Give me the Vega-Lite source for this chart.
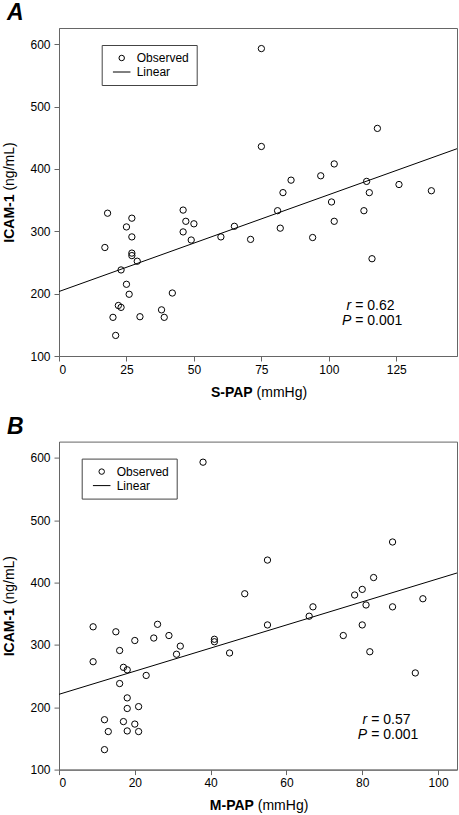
{
  "$schema": "https://vega.github.io/schema/vega-lite/v6.json",
  "padding": {"left": 1, "top": 1, "right": 0, "bottom": 0},
  "config": {
    "font": "Liberation Sans",
    "view": {"stroke": "#666", "strokeWidth": 1},
    "axis": {"grid": false, "domainColor": "#666", "tickColor": "#666", "tickSize": 5, "labelColor": "black", "labelFontSize": 12, "labelFont": "Liberation Sans", "titleColor": "black", "titleFontSize": 14, "titleFont": "Liberation Sans", "labelPadding": 3},
    "legend": {"strokeColor": "#444", "fillColor": "white", "padding": 7, "symbolOffset": 7, "labelOffset": 9, "labelFontSize": 12, "labelFont": "Liberation Sans", "symbolSize": 30, "symbolStrokeColor": "black", "symbolStrokeWidth": 1, "symbolFillColor": "transparent", "rowPadding": 2, "labelColor": "black"},
    "title": {"anchor": "start", "frame": "group", "dx": -52, "fontSize": 23, "fontWeight": "bold", "fontStyle": "italic", "offset": 3, "color": "black"}
  },
  "datasets": {
    "spap": [
      {"spap": 18, "icam": 329}, {"spap": 27, "icam": 321}, {"spap": 25, "icam": 307}, {"spap": 27, "icam": 291},
      {"spap": 17, "icam": 274}, {"spap": 27, "icam": 265}, {"spap": 27, "icam": 261}, {"spap": 29, "icam": 252},
      {"spap": 23, "icam": 238}, {"spap": 25, "icam": 215}, {"spap": 26, "icam": 199}, {"spap": 22, "icam": 181},
      {"spap": 23, "icam": 178}, {"spap": 20, "icam": 162}, {"spap": 30, "icam": 163}, {"spap": 21, "icam": 133},
      {"spap": 42, "icam": 201}, {"spap": 38, "icam": 174}, {"spap": 39, "icam": 162}, {"spap": 46, "icam": 334},
      {"spap": 47, "icam": 316}, {"spap": 50, "icam": 312}, {"spap": 46, "icam": 299}, {"spap": 49, "icam": 286},
      {"spap": 60, "icam": 291}, {"spap": 65, "icam": 308}, {"spap": 71, "icam": 287}, {"spap": 75, "icam": 436},
      {"spap": 118, "icam": 465}, {"spap": 102, "icam": 408}, {"spap": 97, "icam": 389}, {"spap": 86, "icam": 382},
      {"spap": 83, "icam": 362}, {"spap": 81, "icam": 333}, {"spap": 82, "icam": 305}, {"spap": 94, "icam": 290},
      {"spap": 101, "icam": 347}, {"spap": 102, "icam": 316}, {"spap": 114, "icam": 380}, {"spap": 115, "icam": 362},
      {"spap": 113, "icam": 333}, {"spap": 126, "icam": 375}, {"spap": 138, "icam": 365}, {"spap": 116, "icam": 256},
      {"spap": 75, "icam": 593}
    ],
    "mpap": [
      {"mpap": 9, "icam": 329}, {"mpap": 9, "icam": 273}, {"mpap": 15, "icam": 321}, {"mpap": 16, "icam": 291},
      {"mpap": 20, "icam": 307}, {"mpap": 17, "icam": 264}, {"mpap": 18, "icam": 260}, {"mpap": 16, "icam": 238},
      {"mpap": 23, "icam": 251}, {"mpap": 18, "icam": 215}, {"mpap": 18, "icam": 198}, {"mpap": 21, "icam": 201},
      {"mpap": 12, "icam": 180}, {"mpap": 17, "icam": 177}, {"mpap": 20, "icam": 173}, {"mpap": 13, "icam": 161},
      {"mpap": 18, "icam": 162}, {"mpap": 21, "icam": 161}, {"mpap": 12, "icam": 132}, {"mpap": 26, "icam": 333},
      {"mpap": 25, "icam": 311}, {"mpap": 29, "icam": 315}, {"mpap": 32, "icam": 298}, {"mpap": 31, "icam": 285},
      {"mpap": 49, "icam": 382}, {"mpap": 41, "icam": 309}, {"mpap": 41, "icam": 305}, {"mpap": 45, "icam": 287},
      {"mpap": 38, "icam": 593}, {"mpap": 55, "icam": 436}, {"mpap": 55, "icam": 332}, {"mpap": 67, "icam": 361},
      {"mpap": 66, "icam": 346}, {"mpap": 75, "icam": 315}, {"mpap": 78, "icam": 380}, {"mpap": 80, "icam": 389},
      {"mpap": 83, "icam": 408}, {"mpap": 88, "icam": 465}, {"mpap": 81, "icam": 364}, {"mpap": 80, "icam": 332},
      {"mpap": 88, "icam": 361}, {"mpap": 82, "icam": 289}, {"mpap": 96, "icam": 374}, {"mpap": 94, "icam": 255}
    ],
    "statsA": [{"stat": "r", "value": "= 0.62"}, {"stat": "P", "value": "= 0.001"}],
    "statsB": [{"stat": "r", "value": "= 0.57"}, {"stat": "P", "value": "= 0.001"}]
  },
  "spacing": 14.6,
  "resolve": {"scale": {"shape": "independent"}, "legend": {"shape": "independent"}},
  "vconcat": [
    {
      "title": {"text": "A"},
      "width": 398,
      "height": 328,
      "data": {"name": "spap"},
      "layer": [
        {
          "mark": {"type": "point", "filled": false, "stroke": "black", "strokeWidth": 1, "size": 40, "opacity": 1},
          "encoding": {
            "x": {"field": "spap", "type": "quantitative", "scale": {"domain": [0, 147.5], "nice": false, "zero": false},
              "axis": {"orient": "bottom", "values": [0, 25, 50, 75, 100, 125], "title": "S-PAP", "titleFontWeight": "bold", "titleAlign": "right", "titleX": 193.2, "titleY": 40, "titleBaseline": "alphabetic"}},
            "y": {"field": "icam", "type": "quantitative", "scale": {"domain": [100, 626], "nice": false, "zero": false},
              "axis": {"orient": "left", "values": [100, 200, 300, 400, 500, 600], "labelPadding": 4, "title": "ICAM-1", "titleFontWeight": "bold", "titleAngle": -90, "titleAlign": "right", "titleX": -46, "titleY": 166, "titleBaseline": "alphabetic"}},
            "shape": {"datum": "Observed", "type": "nominal", "scale": {"domain": ["Observed", "Linear"], "range": ["circle", "M-3.2,0L3.2,0"]},
              "legend": {"title": null, "orient": "none", "legendX": 42.7, "legendY": 17}}
          }
        },
        {
          "transform": [{"regression": "icam", "on": "spap", "extent": [0, 147.5]}],
          "mark": {"type": "line", "color": "black", "strokeWidth": 1},
          "encoding": {
            "x": {"field": "spap", "type": "quantitative",
              "axis": {"orient": "bottom", "title": "(mmHg)", "titleFontWeight": "normal", "titleAlign": "left", "titleX": 197.1, "titleY": 40, "titleBaseline": "alphabetic", "labels": false, "ticks": false, "domain": false}},
            "y": {"field": "icam", "type": "quantitative",
              "axis": {"orient": "left", "title": "(ng/mL)", "titleFontWeight": "normal", "titleAngle": -90, "titleAlign": "left", "titleX": -46, "titleY": 162.1, "titleBaseline": "alphabetic", "labels": false, "ticks": false, "domain": false}}
          }
        },
        {
          "data": {"name": "statsA"},
          "transform": [{"filter": "datum.stat == 'r'"}],
          "mark": {"type": "text", "align": "right", "fontStyle": "italic", "fontSize": 14, "color": "black"},
          "encoding": {"x": {"datum": 108.3, "type": "quantitative", "axis": null}, "y": {"datum": 180, "type": "quantitative", "axis": null}, "text": {"field": "stat"}}
        },
        {
          "data": {"name": "statsA"},
          "transform": [{"filter": "datum.stat == 'r'"}],
          "mark": {"type": "text", "align": "left", "dx": 4, "fontSize": 14, "color": "black"},
          "encoding": {"x": {"datum": 108.3, "type": "quantitative", "axis": null}, "y": {"datum": 180, "type": "quantitative", "axis": null}, "text": {"field": "value"}}
        },
        {
          "data": {"name": "statsA"},
          "transform": [{"filter": "datum.stat == 'P'"}],
          "mark": {"type": "text", "align": "right", "fontStyle": "italic", "fontSize": 14, "color": "black"},
          "encoding": {"x": {"datum": 108.3, "type": "quantitative", "axis": null}, "y": {"datum": 156, "type": "quantitative", "axis": null}, "text": {"field": "stat"}}
        },
        {
          "data": {"name": "statsA"},
          "transform": [{"filter": "datum.stat == 'P'"}],
          "mark": {"type": "text", "align": "left", "dx": 4, "fontSize": 14, "color": "black"},
          "encoding": {"x": {"datum": 108.3, "type": "quantitative", "axis": null}, "y": {"datum": 156, "type": "quantitative", "axis": null}, "text": {"field": "value"}}
        }
      ],
      "resolve": {"axis": {"x": "independent", "y": "independent"}}
    },
    {
      "title": {"text": "B"},
      "width": 398,
      "height": 328,
      "data": {"name": "mpap"},
      "layer": [
        {
          "mark": {"type": "point", "filled": false, "stroke": "black", "strokeWidth": 1, "size": 40, "opacity": 1},
          "encoding": {
            "x": {"field": "mpap", "type": "quantitative", "scale": {"domain": [0, 105], "nice": false, "zero": false},
              "axis": {"orient": "bottom", "values": [0, 20, 40, 60, 80, 100], "title": "M-PAP", "titleFontWeight": "bold", "titleAlign": "right", "titleX": 194.4, "titleY": 40, "titleBaseline": "alphabetic"}},
            "y": {"field": "icam", "type": "quantitative", "scale": {"domain": [100, 626], "nice": false, "zero": false},
              "axis": {"orient": "left", "values": [100, 200, 300, 400, 500, 600], "labelPadding": 4, "title": "ICAM-1", "titleFontWeight": "bold", "titleAngle": -90, "titleAlign": "right", "titleX": -46, "titleY": 166, "titleBaseline": "alphabetic"}},
            "shape": {"datum": "Observed", "type": "nominal", "scale": {"domain": ["Observed", "Linear"], "range": ["circle", "M-3.2,0L3.2,0"]},
              "legend": {"title": null, "orient": "none", "legendX": 22.7, "legendY": 17}}
          }
        },
        {
          "transform": [{"regression": "icam", "on": "mpap", "extent": [0, 105]}],
          "mark": {"type": "line", "color": "black", "strokeWidth": 1},
          "encoding": {
            "x": {"field": "mpap", "type": "quantitative",
              "axis": {"orient": "bottom", "title": "(mmHg)", "titleFontWeight": "normal", "titleAlign": "left", "titleX": 198.3, "titleY": 40, "titleBaseline": "alphabetic", "labels": false, "ticks": false, "domain": false}},
            "y": {"field": "icam", "type": "quantitative",
              "axis": {"orient": "left", "title": "(ng/mL)", "titleFontWeight": "normal", "titleAngle": -90, "titleAlign": "left", "titleX": -46, "titleY": 162.1, "titleBaseline": "alphabetic", "labels": false, "ticks": false, "domain": false}}
          }
        },
        {
          "data": {"name": "statsB"},
          "transform": [{"filter": "datum.stat == 'r'"}],
          "mark": {"type": "text", "align": "right", "fontStyle": "italic", "fontSize": 14, "color": "black"},
          "encoding": {"x": {"datum": 81.3, "type": "quantitative", "axis": null}, "y": {"datum": 179, "type": "quantitative", "axis": null}, "text": {"field": "stat"}}
        },
        {
          "data": {"name": "statsB"},
          "transform": [{"filter": "datum.stat == 'r'"}],
          "mark": {"type": "text", "align": "left", "dx": 4, "fontSize": 14, "color": "black"},
          "encoding": {"x": {"datum": 81.3, "type": "quantitative", "axis": null}, "y": {"datum": 179, "type": "quantitative", "axis": null}, "text": {"field": "value"}}
        },
        {
          "data": {"name": "statsB"},
          "transform": [{"filter": "datum.stat == 'P'"}],
          "mark": {"type": "text", "align": "right", "fontStyle": "italic", "fontSize": 14, "color": "black"},
          "encoding": {"x": {"datum": 81.3, "type": "quantitative", "axis": null}, "y": {"datum": 155, "type": "quantitative", "axis": null}, "text": {"field": "stat"}}
        },
        {
          "data": {"name": "statsB"},
          "transform": [{"filter": "datum.stat == 'P'"}],
          "mark": {"type": "text", "align": "left", "dx": 4, "fontSize": 14, "color": "black"},
          "encoding": {"x": {"datum": 81.3, "type": "quantitative", "axis": null}, "y": {"datum": 155, "type": "quantitative", "axis": null}, "text": {"field": "value"}}
        }
      ],
      "resolve": {"axis": {"x": "independent", "y": "independent"}}
    }
  ]
}
